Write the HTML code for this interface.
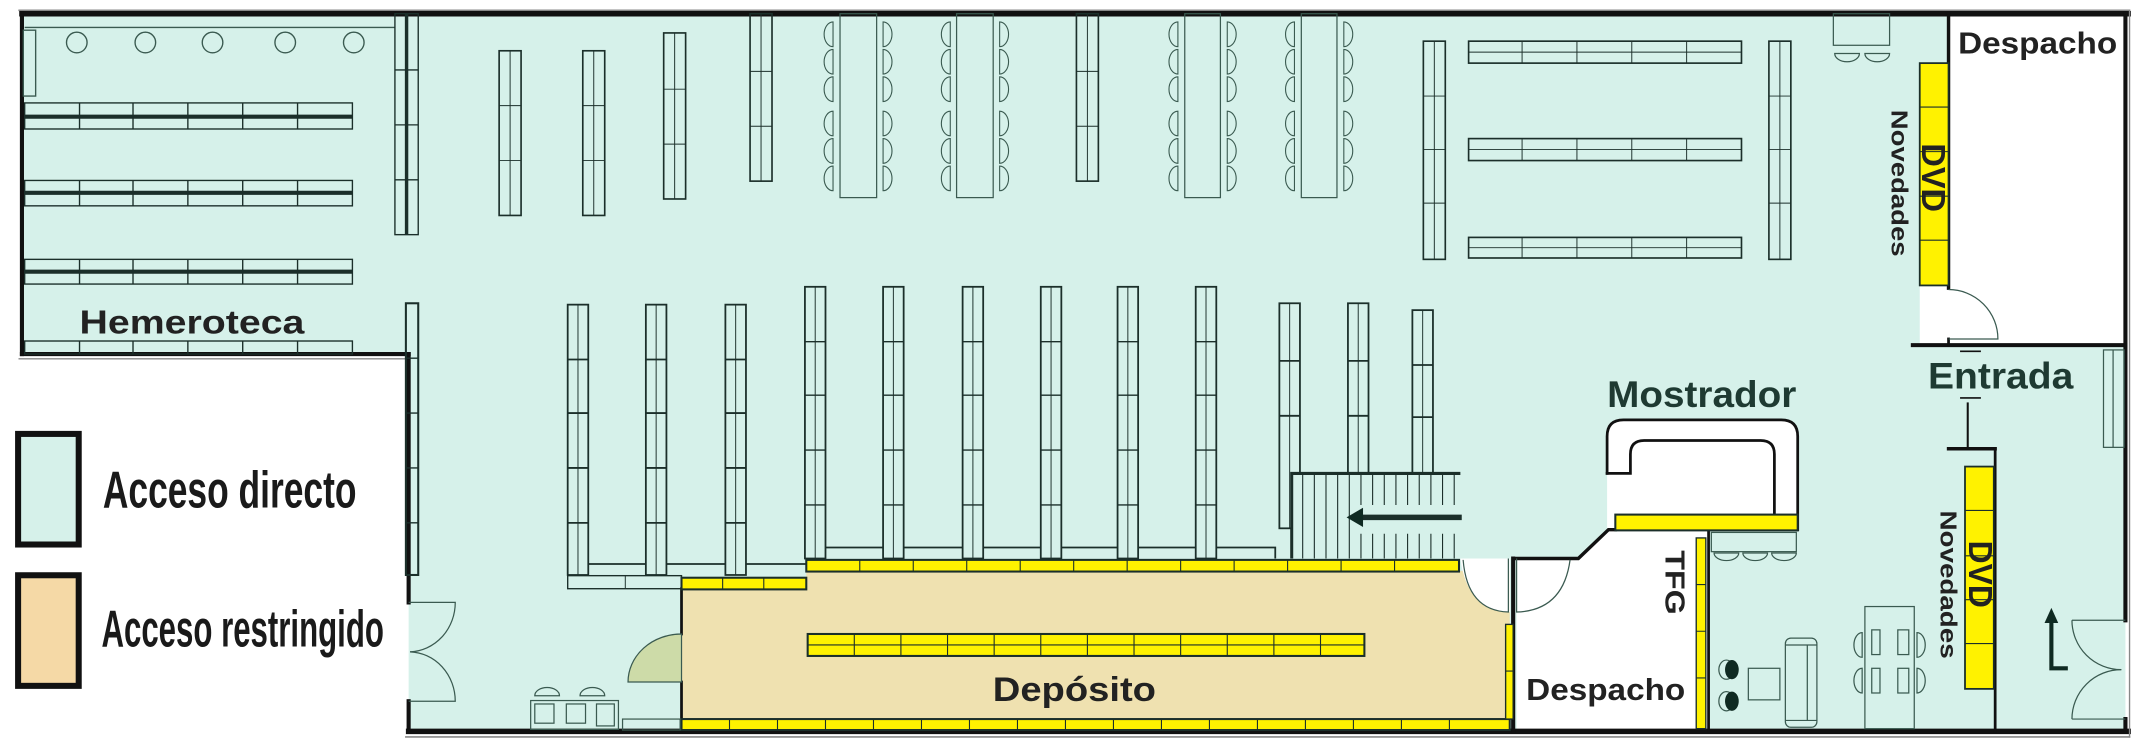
<!DOCTYPE html>
<html><head><meta charset="utf-8">
<style>
html,body{margin:0;padding:0;background:#fff;}
svg{display:block;}
text{font-family:"Liberation Sans",sans-serif;font-weight:bold;}
</style></head>
<body>
<svg width="2146" height="752" viewBox="0 0 1565 548" preserveAspectRatio="none" xmlns="http://www.w3.org/2000/svg">
<defs>
<path id="cl" d="M0 0 A6.5 9 0 0 0 0 18 Z" fill="none" stroke="#3a5a50" stroke-width="0.8"/>
<path id="cr" d="M0 0 A6.5 9 0 0 1 0 18 Z" fill="none" stroke="#3a5a50" stroke-width="0.8"/>
</defs>

<polygon points="16,10 1550,10 1550,533 298,533 298,258 16,258" fill="#d6f1ea"/>
<polygon points="497,429 588,429 588,416 1101,416 1101,533 497,533" fill="#efe1b0"/>
<rect x="1421" y="10" width="129" height="242" fill="#fff"/>
<rect x="1400" y="208" width="22" height="44" fill="#fff"/>
<path d="M1172,386 V318 Q1172,306 1184,306 H1299 Q1311,306 1311,318 V386 Z" fill="#fff"/>
<polygon points="1106,407 1151,407 1173,386 1246,386 1246,532 1106,532" fill="#fff"/>
<path d="M1065,407 H1101 V446 Q1070,445 1065,407 Z" fill="#fff"/>

<g stroke="#111" fill="none" stroke-linecap="square">
<line x1="14" y1="7.5" x2="1553" y2="7.5" stroke="#888" stroke-width="1.2"/>
<line x1="16" y1="10" x2="1552" y2="10" stroke-width="4"/>
<line x1="16" y1="10" x2="16" y2="258" stroke-width="3"/>
<line x1="16" y1="258" x2="298" y2="258" stroke-width="3"/>
<line x1="14" y1="261.5" x2="296" y2="261.5" stroke="#888" stroke-width="1"/>
<line x1="298" y1="258" x2="298" y2="439" stroke-width="3"/>
<line x1="298" y1="511" x2="298" y2="533" stroke-width="3"/>
<line x1="298" y1="533" x2="1552" y2="533" stroke-width="4"/>
<line x1="296" y1="537" x2="1553" y2="537" stroke="#888" stroke-width="1.2"/>
<line x1="1550" y1="10" x2="1550" y2="452" stroke-width="3"/>
<line x1="1550" y1="524" x2="1550" y2="533" stroke-width="3"/>
<line x1="1553" y1="8" x2="1553" y2="537" stroke="#888" stroke-width="1"/>
<line x1="1421" y1="10" x2="1421" y2="210" stroke-width="2.5"/>
<line x1="1395" y1="251.5" x2="1550" y2="251.5" stroke-width="3"/>
<line x1="1421" y1="247" x2="1421" y2="251" stroke-width="2"/>
<line x1="1435" y1="294" x2="1435" y2="326" stroke-width="1.5"/>
<line x1="1421" y1="327" x2="1455" y2="327" stroke-width="2.5"/>
<line x1="1455" y1="327" x2="1455" y2="533" stroke-width="2"/>
<line x1="1430" y1="256" x2="1444" y2="256" stroke-width="1.2"/>
<line x1="1430" y1="290" x2="1444" y2="290" stroke-width="1.2"/>
<line x1="497" y1="429" x2="497" y2="462" stroke-width="2"/>
<line x1="497" y1="497" x2="497" y2="533" stroke-width="2"/>
<line x1="1103.5" y1="407" x2="1103.5" y2="533" stroke-width="3"/>
<line x1="1246" y1="386" x2="1246" y2="533" stroke-width="2"/>
<polyline points="1106,407 1151,407 1173,386 1178,386" stroke-width="2.5"/>
<path d="M1172,345 V318 Q1172,306 1184,306 H1299 Q1311,306 1311,318 V386" stroke-width="2"/>
<path d="M1172,345 H1189 V331 Q1189,321 1199,321 H1284 Q1294,321 1294,331 V375" stroke-width="2"/>
</g>

<g fill="none" stroke="#3a5a50" stroke-width="0.9">
<path d="M1421,211 A36 36 0 0 1 1457,247 H1421"/>
<path d="M298,439 H332 A34 36 0 0 1 299,475"/>
<path d="M298,511 H332 A34 36 0 0 0 299,475"/>
<path d="M1067,408 Q1070,445 1100,446 V407"/>
<path d="M1106,407 V446 Q1140,445 1145,408"/>
</g>
<rect x="1508" y="453" width="40" height="70" fill="#d6f1ea"/>
<g fill="none" stroke="#3a5a50" stroke-width="0.9">
<path d="M1511,452 H1550 M1511,452 A36 36 0 0 0 1547,488"/>
<path d="M1511,524 H1550 M1511,524 A36 36 0 0 1 1547,488"/>
</g>
<path d="M497,462 A39 35 0 0 0 458,497 H497 Z" fill="#cddba8" stroke="#3a5a50" stroke-width="0.9"/>

<g fill="none" stroke="#1b2f2a" stroke-width="1">
<line x1="18" y1="20" x2="288" y2="20" stroke="#3a5a50"/>
<rect x="17" y="22" width="9" height="48" stroke="#3a5a50"/>
<ellipse cx="56" cy="31" rx="7.5" ry="7.5" stroke="#3a5a50"/>
<ellipse cx="106" cy="31" rx="7.5" ry="7.5" stroke="#3a5a50"/>
<ellipse cx="155" cy="31" rx="7.5" ry="7.5" stroke="#3a5a50"/>
<ellipse cx="208" cy="31" rx="7.5" ry="7.5" stroke="#3a5a50"/>
<ellipse cx="258" cy="31" rx="7.5" ry="7.5" stroke="#3a5a50"/>
<rect x="18" y="75" width="239" height="19"/><line x1="18" y1="85" x2="257" y2="85" stroke-width="3"/>
<rect x="18" y="131.5" width="239" height="18.5"/><line x1="18" y1="140.5" x2="257" y2="140.5" stroke-width="3"/>
<rect x="18" y="189" width="239" height="18"/><line x1="18" y1="198" x2="257" y2="198" stroke-width="3"/>
<rect x="18" y="248.5" width="239" height="9.5"/>
<path d="M58,75V94M97,75V94M137,75V94M177,75V94M217,75V94 M58,131.5V150M97,131.5V150M137,131.5V150M177,131.5V150M217,131.5V150 M58,189V207M97,189V207M137,189V207M177,189V207M217,189V207 M58,248.5V258M97,248.5V258M137,248.5V258M177,248.5V258M217,248.5V258"/>
<rect x="288" y="10" width="17" height="161"/><line x1="296.5" y1="10" x2="296.5" y2="171" stroke-width="2.5"/>
<path d="M288,51H305M288,91H305M288,131H305"/>
<rect x="296" y="221" width="9" height="198" stroke-width="1.5"/>
<path d="M296,261H305M296,301H305M296,341H305M296,381H305"/>
</g>

<g fill="none" stroke="#1b2f2a" stroke-width="1.2">
<rect x="364" y="37" width="16" height="120"/><path d="M372,37V157M364,77H380M364,117H380" stroke-width="0.7"/>
<rect x="425" y="37" width="16" height="120"/><path d="M433,37V157M425,77H441M425,117H441" stroke-width="0.7"/>
<rect x="484" y="24" width="16" height="121"/><path d="M492,24V145M484,65H500M484,105H500" stroke-width="0.7"/>
<rect x="547" y="10" width="16" height="122"/><path d="M555,10V132M547,52H563M547,92H563" stroke-width="0.7"/>
<rect x="785" y="10" width="16" height="122"/><path d="M793,10V132M785,52H801M785,92H801" stroke-width="0.7"/>
<rect x="1038" y="30" width="16" height="159"/><path d="M1046,30V189M1038,70H1054M1038,109H1054M1038,148H1054" stroke-width="0.7"/>
<rect x="1290" y="30" width="16" height="159"/><path d="M1298,30V189M1290,70H1306M1290,109H1306M1290,148H1306" stroke-width="0.7"/>
<rect x="1071" y="30" width="199" height="16"/><line x1="1071" y1="38" x2="1270" y2="38" stroke-width="0.7"/>
<rect x="1071" y="101" width="199" height="16"/><line x1="1071" y1="109" x2="1270" y2="109" stroke-width="0.7"/>
<rect x="1071" y="173" width="199" height="15"/><line x1="1071" y1="180.5" x2="1270" y2="180.5" stroke-width="0.7"/>
<path stroke-width="0.7" d="M1110,30V46M1150,30V46M1190,30V46M1230,30V46M1110,101V117M1150,101V117M1190,101V117M1230,101V117M1110,173V188M1150,173V188M1190,173V188M1230,173V188"/>
</g>

<g fill="none" stroke="#3a5a50" stroke-width="0.9">
<rect x="612.6" y="10" width="26.7" height="134"/>
<rect x="697.6" y="10" width="26.7" height="134"/>
<rect x="864" y="10" width="26" height="134"/>
<rect x="949" y="10" width="26" height="134"/>
</g>
<g>
<use href="#cl" x="607.5" y="16"/><use href="#cl" x="607.5" y="36"/><use href="#cl" x="607.5" y="56"/><use href="#cl" x="607.5" y="81"/><use href="#cl" x="607.5" y="101"/><use href="#cl" x="607.5" y="121"/>
<use href="#cr" x="644" y="16"/><use href="#cr" x="644" y="36"/><use href="#cr" x="644" y="56"/><use href="#cr" x="644" y="81"/><use href="#cr" x="644" y="101"/><use href="#cr" x="644" y="121"/>
<use href="#cl" x="693" y="16"/><use href="#cl" x="693" y="36"/><use href="#cl" x="693" y="56"/><use href="#cl" x="693" y="81"/><use href="#cl" x="693" y="101"/><use href="#cl" x="693" y="121"/>
<use href="#cr" x="729" y="16"/><use href="#cr" x="729" y="36"/><use href="#cr" x="729" y="56"/><use href="#cr" x="729" y="81"/><use href="#cr" x="729" y="101"/><use href="#cr" x="729" y="121"/>
<use href="#cl" x="859" y="16"/><use href="#cl" x="859" y="36"/><use href="#cl" x="859" y="56"/><use href="#cl" x="859" y="81"/><use href="#cl" x="859" y="101"/><use href="#cl" x="859" y="121"/>
<use href="#cr" x="895" y="16"/><use href="#cr" x="895" y="36"/><use href="#cr" x="895" y="56"/><use href="#cr" x="895" y="81"/><use href="#cr" x="895" y="101"/><use href="#cr" x="895" y="121"/>
<use href="#cl" x="944" y="16"/><use href="#cl" x="944" y="36"/><use href="#cl" x="944" y="56"/><use href="#cl" x="944" y="81"/><use href="#cl" x="944" y="101"/><use href="#cl" x="944" y="121"/>
<use href="#cr" x="980" y="16"/><use href="#cr" x="980" y="36"/><use href="#cr" x="980" y="56"/><use href="#cr" x="980" y="81"/><use href="#cr" x="980" y="101"/><use href="#cr" x="980" y="121"/>
</g>
<rect x="1337" y="10" width="41" height="23" fill="none" stroke="#3a5a50" stroke-width="0.9"/>
<path d="M1338,39 A9 6 0 0 0 1356,39 Z M1360,39 A9 6 0 0 0 1378,39 Z" fill="none" stroke="#3a5a50" stroke-width="0.9"/>

<g fill="none" stroke="#1b2f2a" stroke-width="1.3">
<rect x="414" y="222" width="15" height="197"/><rect x="471" y="222" width="15" height="197"/><rect x="529" y="222" width="15" height="197"/>
<path stroke-width="0.7" d="M421.5,222V419M478.5,222V419M536.5,222V419"/>
<path d="M414,262H429M414,301H429M414,341H429M414,381H429M471,262H486M471,301H486M471,341H486M471,381H486M529,262H544M529,301H544M529,341H544M529,381H544"/>
<path d="M429,411H471M486,411H529M544,411H588"/>
<rect x="414" y="419.5" width="83" height="9.5" stroke-width="1"/><line x1="456" y1="419.5" x2="456" y2="429" stroke-width="0.7"/>
<rect x="587" y="209" width="15" height="198"/><rect x="644" y="209" width="15" height="198"/><rect x="702" y="209" width="15" height="198"/>
<rect x="759" y="209" width="15" height="198"/><rect x="815" y="209" width="15" height="198"/><rect x="872" y="209" width="15" height="198"/>
<path stroke-width="0.7" d="M594.5,209V407M651.5,209V407M709.5,209V407M766.5,209V407M822.5,209V407M879.5,209V407"/>
<path stroke-width="1" d="M587,249H602M587,288H602M587,328H602M587,368H602 M644,249H659M644,288H659M644,328H659M644,368H659 M702,249H717M702,288H717M702,328H717M702,368H717 M759,249H774M759,288H774M759,328H774M759,368H774 M815,249H830M815,288H830M815,328H830M815,368H830 M872,249H887M872,288H887M872,328H887M872,368H887"/>
<path d="M602,399H644M659,399H702M717,399H759M774,399H815M830,399H872M887,399H930V407"/>
<rect x="933" y="221" width="15" height="164"/><path stroke-width="0.7" d="M940.5,221V385"/><path d="M933,263H948M933,303H948"/>
<rect x="983" y="221" width="15" height="124"/><path stroke-width="0.7" d="M990.5,221V345"/><path d="M983,263H998M983,303H998"/>
<rect x="1030" y="226" width="15" height="119"/><path stroke-width="0.7" d="M1037.5,226V345"/><path d="M1030,266H1045M1030,304H1045"/>
</g>

<rect x="942" y="345" width="123" height="62" fill="#d6f1ea"/>
<g stroke="#1b2f2a" fill="none">
<path d="M942,407V345H1065" stroke-width="2.2"/>
<path stroke-width="0.8" d="M950,346V407M958.5,346V407M967,346V407M975.5,346V407M984,346V407 M992.5,346V368M1001,346V368M1009.5,346V368M1018,346V368M1026.5,346V368M1035,346V368M1043.5,346V368M1052,346V368M1060.5,346V368 M992.5,389V407M1001,389V407M1009.5,389V407M1018,389V407M1026.5,389V407M1035,389V407M1043.5,389V407M1052,389V407M1060.5,389V407"/>
<line x1="1066" y1="377" x2="990" y2="377" stroke-width="4"/>
</g>
<polygon points="982,377 994,370 994,384" fill="#0f2a22"/>

<g fill="#fff200" stroke="#1b2f2a" stroke-width="1">
<rect x="588" y="408" width="476" height="8.5" stroke-width="1.5"/>
<rect x="497" y="421" width="91" height="8.5" stroke-width="1.5"/>
<rect x="497" y="524" width="604" height="8" stroke-width="1.5"/>
<rect x="589" y="462" width="406" height="16" stroke-width="1.5"/>
<rect x="1098" y="455" width="5.5" height="69"/>
<rect x="1178" y="375" width="133" height="11.5" stroke-width="1.5"/>
<rect x="1237" y="392" width="7" height="139"/>
<rect x="1400" y="46" width="21" height="162" stroke-width="1.3"/>
<rect x="1433" y="340" width="21" height="162" stroke-width="1.3"/>
</g>
<g stroke="#1b2f2a" stroke-width="0.8" fill="none">
<path d="M627,408V416.5M666,408V416.5M705,408V416.5M744,408V416.5M783,408V416.5M822,408V416.5M861,408V416.5M900,408V416.5M939,408V416.5M978,408V416.5M1017,408V416.5"/>
<path d="M527,421V429.5M557,421V429.5"/>
<path d="M532,524V532M567,524V532M602,524V532M637,524V532M672,524V532M707,524V532M742,524V532M777,524V532M812,524V532M847,524V532M882,524V532M917,524V532M952,524V532M987,524V532M1022,524V532M1057,524V532"/>
<path d="M589,470H995M623,462V478M657,462V478M691,462V478M725,462V478M759,462V478M793,462V478M827,462V478M861,462V478M895,462V478M929,462V478M963,462V478"/>
<path d="M1098,489H1103.5M1237,426H1244M1237,460H1244M1237,494H1244"/>
<path d="M1400,78H1421M1400,110.5H1421M1400,143H1421M1400,175H1421"/>
<path d="M1433,372H1454M1433,405H1454M1433,437H1454M1433,469H1454"/>
</g>

<g fill="none" stroke="#3a5a50" stroke-width="0.9">
<rect x="387" y="510.5" width="64" height="21"/>
<rect x="390" y="513" width="14" height="14"/><rect x="413" y="513" width="14" height="14"/><rect x="435" y="513" width="13" height="16"/>
<path d="M390,507 A9 6 0 0 1 408,507 Z M423,507 A9 6 0 0 1 441,507 Z"/>
<rect x="454" y="524" width="42" height="8"/>
</g>

<g fill="none" stroke="#3a5a50" stroke-width="0.9">
<rect x="1248" y="388" width="62" height="14"/>
<path d="M1250,403 A9 5.5 0 0 0 1268,403 Z M1271,403 A9 5.5 0 0 0 1289,403 Z M1292,403 A9 5.5 0 0 0 1310,403 Z"/>
<rect x="1534" y="255" width="15" height="71"/><line x1="1541" y1="255" x2="1541" y2="326"/>
<rect x="1360" y="442" width="36" height="89"/>
<rect x="1365" y="459" width="6" height="18"/><rect x="1365" y="487" width="6" height="18"/>
<rect x="1384" y="459" width="8" height="18"/><rect x="1384" y="487" width="8" height="18"/>
<path d="M1358,461 A6 9 0 0 0 1358,479 Z M1358,487 A6 9 0 0 0 1358,505 Z M1398,461 A6 9 0 0 1 1398,479 Z M1398,487 A6 9 0 0 1 1398,505 Z"/>
<rect x="1302" y="465" width="23" height="65" rx="4"/>
<path d="M1318,470V525M1302,470H1325M1302,525H1325"/>
<rect x="1275" y="487" width="23" height="23"/>
<ellipse cx="1259" cy="488" rx="5.5" ry="7"/><ellipse cx="1259" cy="511" rx="5.5" ry="7"/>
</g>
<ellipse cx="1263" cy="488" rx="5" ry="7" fill="#0f2a22"/>
<ellipse cx="1263" cy="511" rx="5" ry="7" fill="#0f2a22"/>
<path d="M1496,451V487H1508" fill="none" stroke="#0f2a22" stroke-width="3"/>
<polygon points="1496,443 1491,454 1501,454" fill="#0f2a22"/>

<rect x="13.2" y="316.2" width="44.2" height="80.6" fill="#d6f1ea" stroke="#111" stroke-width="4.4"/>
<rect x="13.2" y="419.2" width="44.2" height="80.6" fill="#f5d9a6" stroke="#111" stroke-width="4.4"/>

<text x="58" y="243" font-size="24" fill="#222" textLength="164" lengthAdjust="spacingAndGlyphs">Hemeroteca</text>
<text x="75" y="370" font-size="38" fill="#1a1a1a" style="font-family:'Liberation Sans Narrow','Liberation Sans',sans-serif;font-weight:bold" textLength="185" lengthAdjust="spacingAndGlyphs">Acceso directo</text>
<text x="74" y="471" font-size="38" fill="#1a1a1a" style="font-family:'Liberation Sans Narrow','Liberation Sans',sans-serif;font-weight:bold" textLength="206" lengthAdjust="spacingAndGlyphs">Acceso restringido</text>
<text x="724" y="511" font-size="25" fill="#222" textLength="119" lengthAdjust="spacingAndGlyphs">Depósito</text>
<text x="1113" y="510" font-size="22" fill="#222" textLength="116" lengthAdjust="spacingAndGlyphs">Despacho</text>
<text x="1428" y="39" font-size="22" fill="#222" textLength="116" lengthAdjust="spacingAndGlyphs">Despacho</text>
<text x="1172" y="296.5" font-size="27" fill="#1e3a32" textLength="138" lengthAdjust="spacingAndGlyphs">Mostrador</text>
<text x="1406" y="283" font-size="27" fill="#1e3a32" textLength="106" lengthAdjust="spacingAndGlyphs">Entrada</text>
<text transform="translate(1214.5,401) rotate(90)" font-size="20" fill="#222" textLength="47" lengthAdjust="spacingAndGlyphs">TFG</text>
<text transform="translate(1401.5,104.5) rotate(90)" font-size="24" fill="#222" textLength="50" lengthAdjust="spacingAndGlyphs">DVD</text>
<text transform="translate(1379.5,80) rotate(90)" font-size="17" fill="#222" textLength="107" lengthAdjust="spacingAndGlyphs">Novedades</text>
<text transform="translate(1436,394) rotate(90)" font-size="24" fill="#222" textLength="49" lengthAdjust="spacingAndGlyphs">DVD</text>
<text transform="translate(1415,372) rotate(90)" font-size="17" fill="#222" textLength="108" lengthAdjust="spacingAndGlyphs">Novedades</text>
</svg>
</body></html>
